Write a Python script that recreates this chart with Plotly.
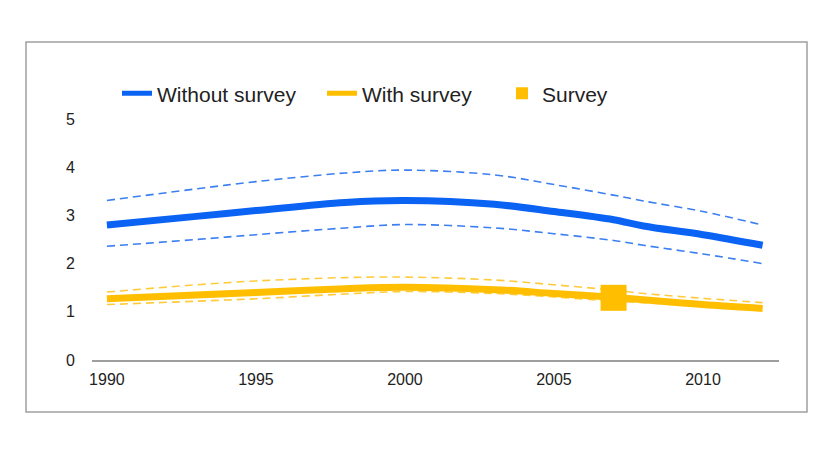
import plotly.graph_objects as go

years = [1990, 1993, 1995, 1998, 2000, 2003, 2005, 2007, 2008, 2010, 2012]

without_mid = [2.80, 2.98, 3.10, 3.27, 3.31, 3.23, 3.08, 2.91, 2.78, 2.60, 2.38]
without_hi = [3.31, 3.55, 3.70, 3.88, 3.94, 3.84, 3.64, 3.42, 3.30, 3.08, 2.80]
without_lo = [2.36, 2.50, 2.60, 2.74, 2.81, 2.74, 2.62, 2.48, 2.38, 2.20, 2.00]

with_mid = [1.27, 1.35, 1.40, 1.48, 1.51, 1.46, 1.38, 1.30, 1.25, 1.15, 1.07]
with_hi = [1.41, 1.56, 1.64, 1.71, 1.72, 1.66, 1.56, 1.45, 1.38, 1.28, 1.19]
with_lo = [1.15, 1.22, 1.27, 1.37, 1.42, 1.38, 1.31, 1.22, 1.19, 1.12, 1.10]

survey_year = [2007]
survey_val = [1.29]

x_ticks = [1990, 1995, 2000, 2005, 2010]
y_ticks = [0, 1, 2, 3, 4, 5]

BLUE = "#0B63F4"
BLUE_LIGHT = "#3C7FF0"
YELLOW = "#FFBF00"
YELLOW_LIGHT = "#FFCB3D"
DASH = "8px,5px"

fig = go.Figure()

fig.add_trace(go.Scatter(x=years, y=without_hi, mode="lines", showlegend=False,
                         line=dict(color=BLUE_LIGHT, width=1.6, dash=DASH, shape="spline")))
fig.add_trace(go.Scatter(x=years, y=without_lo, mode="lines", showlegend=False,
                         line=dict(color=BLUE_LIGHT, width=1.6, dash=DASH, shape="spline")))
fig.add_trace(go.Scatter(x=years, y=without_mid, mode="lines", name="Without survey", legend="legend",
                         line=dict(color=BLUE, width=7, shape="spline")))

fig.add_trace(go.Scatter(x=years, y=with_hi, mode="lines", showlegend=False,
                         line=dict(color=YELLOW_LIGHT, width=1.6, dash=DASH, shape="spline")))
fig.add_trace(go.Scatter(x=years, y=with_lo, mode="lines", showlegend=False,
                         line=dict(color=YELLOW_LIGHT, width=1.6, dash=DASH, shape="spline")))
fig.add_trace(go.Scatter(x=years, y=with_mid, mode="lines", name="With survey", legend="legend2",
                         line=dict(color=YELLOW, width=7, shape="spline")))

fig.add_trace(go.Scatter(x=survey_year, y=survey_val, mode="markers", name="Survey", legend="legend3",
                         marker=dict(symbol="square", size=26, color=YELLOW)))

PLOT_L, PLOT_W = 92, 687


def leg(px):
    return dict(orientation="h", x=(px - PLOT_L) / PLOT_W, xanchor="left", y=1.105, yanchor="middle",
                font=dict(size=21, color="#222222"), itemwidth=30, bgcolor="rgba(0,0,0,0)",
                itemsizing="constant")


fig.update_layout(
    width=834, height=469,
    margin=dict(l=84, r=63, t=111, b=117),
    paper_bgcolor="white", plot_bgcolor="white",
    font=dict(family="Arial, Liberation Sans, sans-serif", color="#222222"),
    legend=leg(117), legend2=leg(322), legend3=leg(502),
    xaxis=dict(range=[1989.5, 2012.55], tickvals=x_ticks, ticktext=[str(t) for t in x_ticks],
               showgrid=False, zeroline=False, showline=True, linecolor="#9e9e9e", linewidth=1.5,
               ticks="", ticklabelstandoff=4, tickfont=dict(size=16, color="#222222")),
    yaxis=dict(range=[0, 5], tickvals=y_ticks, showgrid=False, zeroline=False, showline=False,
               ticks="", ticklabelstandoff=16, tickfont=dict(size=16, color="#222222")),
    shapes=[dict(type="rect", xref="paper", yref="paper",
                 x0=(26 - 92) / 687, x1=(807 - 92) / 687,
                 y0=(360 - 412) / 241, y1=(360 - 42) / 241,
                 line=dict(color="#a0a0a0", width=1.5), fillcolor="rgba(0,0,0,0)", layer="below")],
)

fig.write_html("out.html")
